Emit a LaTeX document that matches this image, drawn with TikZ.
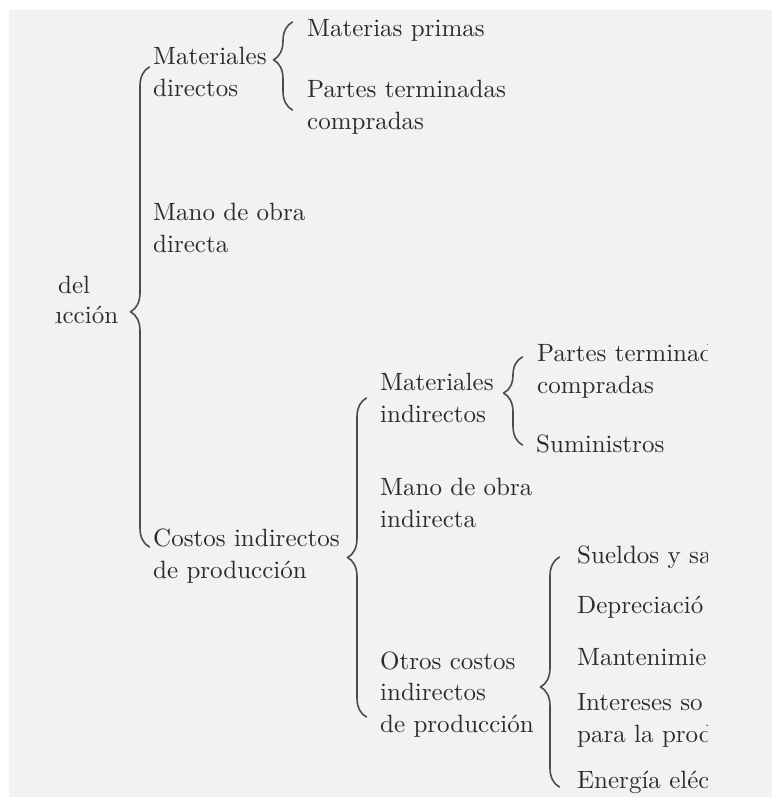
\documentclass[tikz,border=0pt]{standalone}
\usepackage{fontspec}
\setmainfont{lmroman10-regular}[Extension=.otf]
\usepackage{tikz}
\usetikzlibrary{decorations.pathreplacing}
\definecolor{sqsqsq}{rgb}{0.95,0.95,0.95}
\definecolor{zzzzzz}{rgb}{0.3,0.3,0.3}
\definecolor{yqyqyq}{rgb}{0.17,0.17,0.17}
\tikzset{
	rotulo/.style={anchor=base west,inner sep=0pt,align=left,text=yqyqyq,font=\fontsize{25}{31.5}\selectfont},
	llave/.style={decorate,decoration={brace,amplitude=19pt,aspect=#1},line width=1.6pt,color=zzzzzz}
}
\begin{document}
\begin{tikzpicture}[line cap=round,line join=round,x=1.0pt,y=-1.0pt]
		\useasboundingbox (0,0) rectangle (772,798);
		\fill[color=sqsqsq] (9,10) rectangle (772,797);
		\coordinate (llaveAbajo) at (149.5,547);
		\coordinate (llaveArriba) at (149.5,67);
		\coordinate (mdAbajo) at (292.5,110);
		\coordinate (mdArriba) at (292.5,22);
		\coordinate (ciAbajo) at (366.5,717);
		\coordinate (ciArriba) at (366.5,398);
		\coordinate (miAbajo) at (522.5,445);
		\coordinate (miArriba) at (522.5,357);
		\coordinate (ocAbajo) at (559.5,787);
		\coordinate (ocArriba) at (559.5,557);
		\draw[llave=0.49] (llaveAbajo) -- (llaveArriba);
		\draw[llave=0.57] (mdAbajo) -- (mdArriba);
		\draw[llave=0.5] (ciAbajo) -- (ciArriba);
		\draw[llave=0.59] (miAbajo) -- (miArriba);
		\draw[llave=0.435] (ocAbajo) -- (ocArriba);
		\begin{scope}
		\clip (55,0) rectangle (707,798);
		\node[rotulo] (del) at (58,293) {del};
		\node[rotulo] (uccion) at (48.5,323) {ucción};
		\node[rotulo] (matdir) at (153,96) {Materiales\\directos};
		\node[rotulo] (mprimas) at (307,36) {Materias primas};
		\node[rotulo] (pterm) at (307,129) {Partes terminadas\\compradas};
		\node[rotulo] (mobdir) at (153,252) {Mano de obra\\directa};
		\node[rotulo] (cip) at (153,578) {Costos indirectos\\de producción};
		\node[rotulo] (matind) at (380,422) {Materiales\\indirectos};
		\node[rotulo] (ptermi) at (537,393) {Partes terminad\\compradas};
		\node[rotulo] (sumin) at (536,452) {Suministros};
		\node[rotulo] (mobind) at (380,527) {Mano de obra\\indirecta};
		\node[rotulo] (otros) at (380,732) {Otros costos\\indirectos\\de producción};
		\node[rotulo] (sueldos) at (577,563) {Sueldos y sa};
		\node[rotulo] (deprec) at (577,613) {Depreciació};
		\node[rotulo] (mant) at (577,665) {Mantenimie};
		\node[rotulo] (inter) at (577,742) {Intereses so\\para la prod};
		\node[rotulo] (energia) at (577,788) {Energía eléc};
		\end{scope}
\end{tikzpicture}
\end{document}
